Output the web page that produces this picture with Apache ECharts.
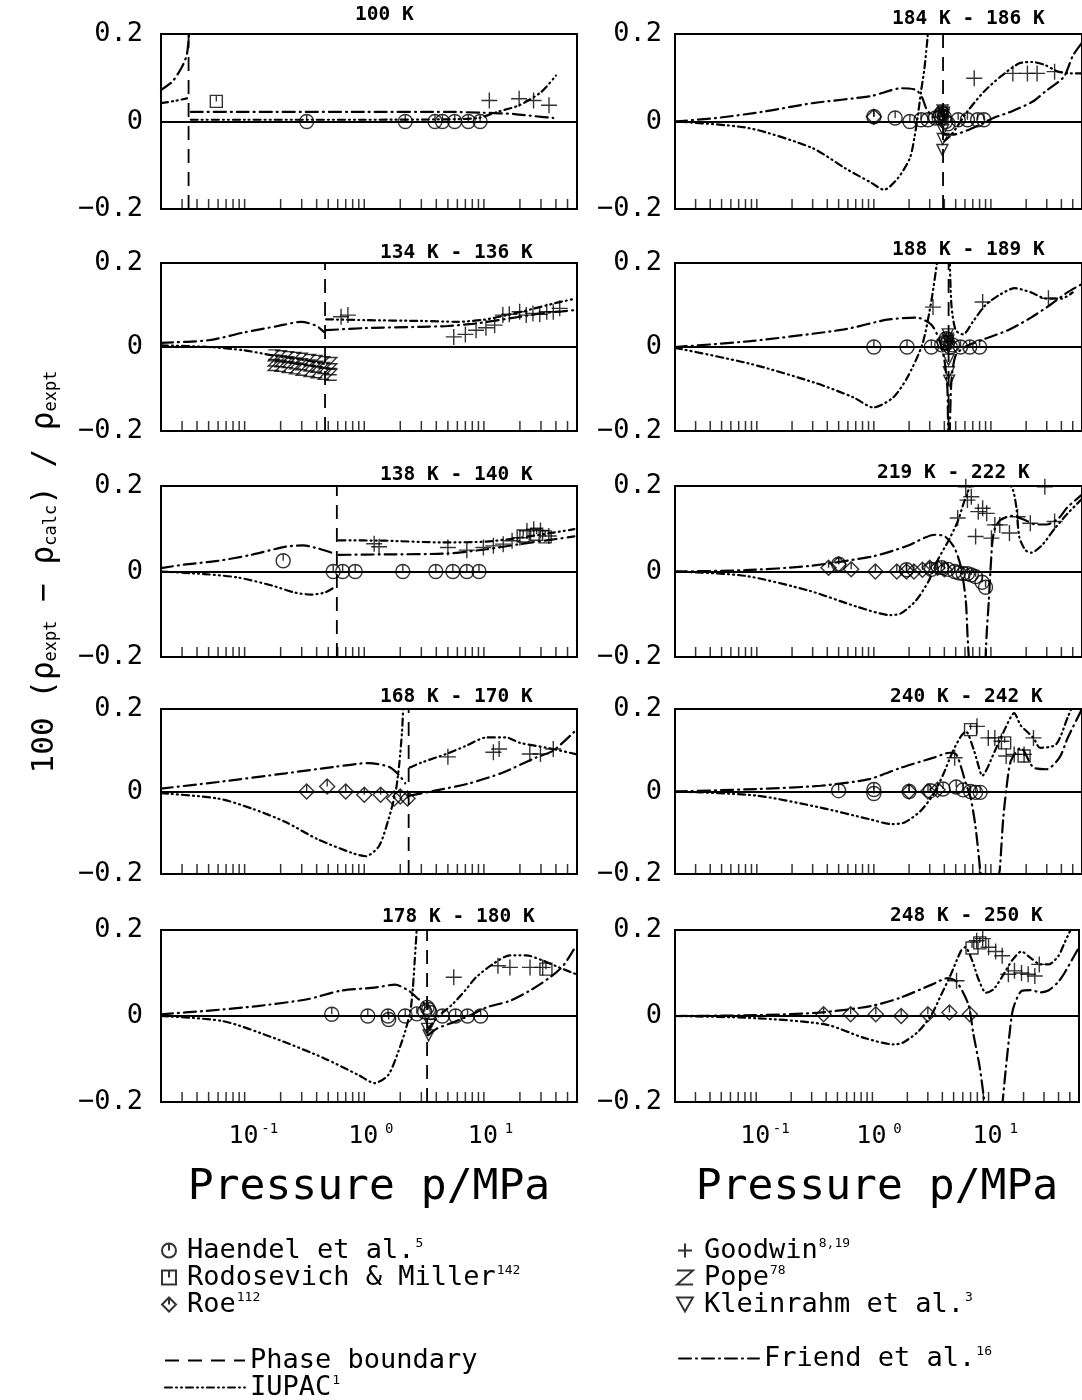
<!DOCTYPE html>
<html><head><meta charset="utf-8">
<script src="https://cdn.jsdelivr.net/npm/echarts@6.0.0/dist/echarts.min.js"></script>
<style>html,body{margin:0;padding:0;background:#fff}#c{width:1082px;height:1400px}</style>
</head><body><div id="c"></div>
<script>
// ---------- DATA ----------
const TITLES = ['100 K','134 K - 136 K','138 K - 140 K','168 K - 170 K','178 K - 180 K',
                '184 K - 186 K','188 K - 189 K','219 K - 222 K','240 K - 242 K','248 K - 250 K'];
// saturation pressure (MPa) of each panel; null = supercritical
const PHASE_P = [0.034, 0.47, 0.59, 2.35, 3.35, 3.9, 4.35, null, null, null];
// x-axis minor/major tick positions (MPa)
const TICKS = [0.03,0.04,0.05,0.06,0.07,0.08,0.09,0.1,0.2,0.3,0.4,0.5,0.6,0.7,0.8,0.9,1,2,3,4,5,6,7,8,9,10,20,30,40,50];

// Friend et al. curves (segments of [p, dev])
const FRIEND_1 = [[[0.02,0.072],[0.025,0.092],[0.03,0.125],[0.033,0.155],[0.0345,0.21]],
  [[0.0355,0.022],[0.1,0.022],[1,0.022],[5,0.022],[10,0.02],[18,0.017],[27,0.012],[38,0.008]]];
const FRIEND_2 = [[[0.02,0.01],[0.05,0.016],[0.1,0.035],[0.19,0.05],[0.3,0.06],[0.4,0.05],[0.46,0.036]],
  [[0.48,0.04],[1,0.045],[3,0.048],[5,0.05],[8,0.055],[12,0.062],[20,0.072],[30,0.08],[45,0.085],[58,0.088]]];
const FRIEND_3 = [[[0.02,0.008],[0.031,0.016],[0.06,0.025],[0.114,0.039],[0.22,0.058],[0.31,0.061],[0.41,0.054],[0.56,0.042]],
  [[0.61,0.039],[1.5,0.04],[4.9,0.042],[10.5,0.052],[20,0.064],[38,0.075],[57,0.082]]];
const FRIEND_4 = [[[0.02,0.007],[0.06,0.023],[0.22,0.044],[0.57,0.06],[1.09,0.069],[1.6,0.06],[1.95,0.04],[2.2,0.02]],
  [[2.4,-0.01],[3.9,0.002],[7.4,0.019],[14.1,0.045],[27.6,0.083],[38,0.099],[58,0.147]]];
const FRIEND_5 = [[[0.02,0.004],[0.048,0.012],[0.127,0.023],[0.335,0.039],[0.64,0.059],[1.22,0.066],[1.81,0.073],[2.35,0.059],[2.85,0.039],[3.25,0.027]],
  [[3.4,-0.045],[4.0,-0.03],[5.5,-0.015],[7.5,0.0],[10.5,0.02],[16.4,0.035],[24.2,0.059],[35.7,0.09],[46,0.117],[58,0.16]]];
const FRIEND_6 = [[[0.02,0.0],[0.045,0.008],[0.117,0.023],[0.3,0.042],[0.94,0.058],[1.73,0.076],[2.3,0.072],[2.6,0.053],[2.8,0.03],[3.2,0.01]],
  [[4.0,-0.03],[4.7,-0.03],[7,-0.015],[10.5,0.008],[15,0.023],[22.6,0.045],[29,0.068],[42,0.102],[50,0.15],[60,0.18]]];
const FRIEND_7 = [[[0.02,0.0],[0.088,0.014],[0.56,0.042],[1.3,0.065],[2.33,0.07],[3.1,0.053],[3.6,0.019],[4.0,-0.03],[4.25,-0.1],[4.3,-0.21]],
  [[4.45,-0.21],[4.6,-0.08],[5.0,-0.02],[6,0.0],[9,0.02],[14,0.04],[22,0.07],[32,0.1],[45,0.13],[60,0.15]]];
const FRIEND_8 = [[[0.02,0],[0.079,0.003],[0.28,0.013],[1.0,0.036],[1.89,0.059],[3.34,0.086],[4.05,0.082],[4.89,0.055],[5.56,0.009],[6.1,-0.068],[6.3,-0.145],[6.5,-0.21]],
  [[9.0,-0.21],[9.2,-0.145],[9.6,-0.068],[9.9,0.0],[10.3,0.07],[10.8,0.1],[12,0.12],[15,0.13],[19.7,0.12],[24,0.11],[30,0.11],[38,0.125],[45,0.15],[60,0.18]]];
const FRIEND_9 = [[[0.02,0],[0.1,0.006],[0.35,0.014],[0.91,0.03],[1.72,0.058],[3.24,0.082],[4.45,0.094],[5.05,0.09],[5.55,0.06],[6.1,0.02],[6.7,-0.014],[7.4,-0.087],[8.1,-0.19],[8.3,-0.21]],
  [[11.5,-0.21],[11.9,-0.19],[12.7,-0.07],[13.5,0.002],[14.8,0.074],[18,0.106],[23.1,0.058],[29.9,0.054],[38.5,0.082],[45.3,0.13],[60,0.2]]];
const FRIEND_10 = [[[0.02,0],[0.1,0.002],[0.35,0.008],[0.97,0.023],[1.72,0.042],[3.24,0.073],[4.45,0.088],[5.3,0.08],[6.7,0.027],[7.4,-0.042],[8.4,-0.12],[9.3,-0.21]],
  [[13.1,-0.21],[14.1,-0.12],[15.8,0.0],[16.7,0.027],[19.2,0.058],[23,0.06],[28,0.055],[33,0.06],[40,0.08],[45,0.1],[60,0.16]]];

// IUPAC curves
const IUPAC_1 = [[[0.02,0.042],[0.026,0.047],[0.033,0.053]],
  [[0.0355,0.004],[0.1,0.004],[1,0.004],[5,0.005],[9,0.008],[13,0.022],[19.7,0.037],[30,0.067],[40,0.105]]];
const IUPAC_2 = [[[0.02,0.004],[0.05,0.0],[0.1,-0.008],[0.17,-0.02],[0.3,-0.03],[0.46,-0.04]],
  [[0.48,0.066],[1,0.064],[3,0.062],[6,0.06],[10,0.065],[15,0.075],[25,0.09],[40,0.105],[58,0.115]]];
const IUPAC_3 = [[[0.02,0.0],[0.046,-0.006],[0.088,-0.014],[0.17,-0.033],[0.26,-0.049],[0.36,-0.054],[0.47,-0.049],[0.57,-0.036]],
  [[0.61,0.073],[1.5,0.072],[4.5,0.068],[10.5,0.07],[20,0.079],[38,0.091],[57,0.099]]];
const IUPAC_4 = [[[0.02,-0.004],[0.06,-0.017],[0.114,-0.041],[0.22,-0.074],[0.41,-0.116],[0.79,-0.149],[1.03,-0.157],[1.33,-0.132],[1.6,-0.066],[1.83,0.0],[1.96,0.066],[2.07,0.147],[2.12,0.21]],
  [[2.4,0.058],[3,0.07],[4.84,0.091],[7,0.11],[10.5,0.131],[15.4,0.131],[20,0.118],[33.6,0.106],[60,0.09]]];
const IUPAC_5 = [[[0.02,0],[0.066,-0.012],[0.175,-0.051],[0.46,-0.098],[0.89,-0.137],[1.22,-0.156],[1.59,-0.137],[1.93,-0.082],[2.2,-0.035],[2.43,0.012],[2.55,0.066],[2.64,0.129],[2.72,0.184],[2.75,0.21]],
  [[3.4,-0.03],[4.2,0.0],[5.45,0.027],[7,0.06],[8.6,0.09],[11.9,0.121],[16.5,0.141],[22.6,0.141],[31,0.129],[42.5,0.113],[58,0.098]]];
const IUPAC_6 = [[[0.02,0],[0.085,-0.015],[0.3,-0.061],[0.57,-0.107],[0.95,-0.14],[1.22,-0.156],[1.6,-0.13],[2.03,-0.084],[2.23,-0.034],[2.38,0.015],[2.53,0.069],[2.7,0.12],[2.87,0.19],[2.9,0.21]],
  [[4.0,-0.045],[4.6,-0.03],[6.3,0.023],[8.7,0.068],[12,0.102],[17.5,0.133],[22.6,0.136],[29,0.129],[37.5,0.114],[48,0.11],[60,0.11]]];
const IUPAC_7 = [[[0.02,-0.002],[0.088,-0.04],[0.32,-0.086],[0.67,-0.12],[0.99,-0.144],[1.45,-0.121],[1.92,-0.074],[2.6,0.007],[3.1,0.11],[3.5,0.21]],
  [[4.45,0.21],[4.6,0.1],[5.0,0.04],[5.8,0.03],[7,0.06],[9,0.1],[12,0.125],[16,0.14],[22,0.13],[30,0.115],[40,0.115],[50,0.13]]];
const IUPAC_8 = [[[0.02,0],[0.079,-0.01],[0.28,-0.045],[0.73,-0.083],[1.38,-0.102],[1.7,-0.098],[2.29,-0.068],[2.94,-0.022],[3.56,0.03],[4.3,0.07],[5.2,0.117],[5.9,0.163],[6.5,0.194],[6.8,0.21]],
  [[13.5,0.21],[15.3,0.194],[16.5,0.15],[17.5,0.08],[19.7,0.05],[22,0.044],[27,0.06],[35,0.1],[45,0.135],[60,0.17]]];
const IUPAC_9 = [[[0.02,0],[0.1,-0.01],[0.35,-0.039],[0.91,-0.067],[1.42,-0.079],[1.83,-0.075],[2.51,-0.047],[3.24,-0.006],[3.92,0.042],[4.74,0.098],[5.55,0.134],[6.1,0.146],[7.16,0.1],[7.87,0.06],[8.4,0.038],[10.8,0.098],[13.1,0.15],[15.8,0.19],[18,0.16],[23.1,0.13],[26.3,0.106],[36,0.114],[45.3,0.18],[52,0.22]]];
const IUPAC_10 = [[[0.02,0],[0.1,-0.005],[0.4,-0.02],[0.85,-0.051],[1.52,-0.066],[1.83,-0.062],[2.51,-0.035],[3.24,0.004],[3.92,0.05],[4.74,0.097],[5.8,0.152],[6.3,0.16],[7.2,0.13],[8.2,0.085],[9.5,0.054],[11,0.062],[13,0.09],[16,0.13],[19.2,0.15],[23,0.135],[28,0.12],[33,0.12],[40,0.14],[45,0.17],[55,0.22]]];

// Experimental data points [p MPa, deviation]
const HAENDEL_1 = [[0.33,0],[2.2,0],[3.9,0],[4.5,0],[5.7,0],[7.4,0],[9.3,0]];
const HAENDEL_3 = [[0.21,0.025],[0.55,0],[0.66,0],[0.84,0],[2.1,0],[3.96,0],[5.5,0],[7.2,0],[9.1,0]];
const HAENDEL_5 = [[0.535,0.004],[1.07,0],[1.58,0],[1.6,-0.008],[2.2,0],[2.75,0.005],[3.2,0.01],[3.35,0.02],[3.45,0.015],[3.55,0.008],[4.5,0],[5.8,0],[7.3,0],[9.4,0]];
const HAENDEL_6 = [[1.0,0.011],[1.52,0.008],[2.03,0],[2.53,0.004],[2.9,0.004],[3.37,0.008],[3.6,0.01],[3.7,0.015],[3.8,0.02],[4.0,0.01],[4.1,0.0],[4.3,-0.005],[5.25,0.004],[6.3,0.004],[7.7,0.004],[8.7,0.004]];
const HAENDEL_7 = [[1.0,0],[1.92,0],[3.1,0],[3.8,0.005],[4.0,0.01],[4.15,0.02],[4.25,0.01],[4.5,0.0],[4.7,0.005],[5.5,0],[6.6,0],[8,0]];
const HAENDEL_8 = [[0.5,0.017],[1.9,0.004],[3.1,0.005],[3.8,0.009],[4.3,0.005],[4.9,0.0],[5.3,-0.003],[5.8,-0.005],[6.3,-0.005],[6.8,-0.008],[7.4,-0.012],[8.4,-0.025],[9.0,-0.037]];
const HAENDEL_9 = [[0.5,0.002],[1.0,-0.005],[1.0,0.005],[2.0,0],[3.04,0.002],[3.9,0.006],[5.05,0.011],[5.8,0.004],[6.7,0.0],[7.4,-0.002],[8.1,-0.002]];

const RODO_1 = [[0.058,0.046]];
const RODO_3 = [[21.3,0.083],[27.6,0.087],[32.5,0.081]];
const RODO_5 = [[33,0.109]];
const RODO_9 = [[6.7,0.15],[13.1,0.118],[19.2,0.086]];
const RODO_10 = [[7.2,0.158],[8.4,0.17]];

const ROE_4 = [[0.33,0],[0.49,0.012],[0.7,0],[1.0,-0.008],[1.37,-0.008],[1.78,-0.017],[2.0,-0.012],[2.3,-0.017]];
const ROE_6 = [[1.0,0.011]];
const ROE_8 = [[0.41,0.009],[0.5,0.017],[0.64,0.005],[1.03,0.0],[1.57,0],[1.9,0],[2.2,0],[2.6,0.004],[3.0,0.009],[3.5,0.009],[4.0,0.005]];
const ROE_9 = [[2.0,0.0],[2.9,0.0],[3.5,0.004]];
const ROE_10 = [[0.38,0.004],[0.65,0.004],[1.07,0.004],[1.77,0.0],[3.0,0.004],[4.6,0.008],[6.9,0.004]];

const GOODWIN_1 = [[11.1,0.048],[19.7,0.052],[26,0.048],[35,0.037]];
const GOODWIN_2 = [[0.64,0.072],[0.73,0.076],[5.6,0.024],[7,0.03],[8.6,0.04],[10.4,0.046],[12.3,0.052],[14.4,0.076],[16.3,0.078],[19.9,0.084],[22.6,0.076],[25.7,0.08],[29.3,0.078],[33.5,0.084],[38,0.084],[43,0.092]];
const GOODWIN_3 = [[1.21,0.065],[1.33,0.058],[5.0,0.056],[7.2,0.05],[9.9,0.056],[12,0.06],[14.5,0.064],[17.2,0.072],[20,0.079],[22.9,0.095],[26.1,0.099],[29.7,0.096],[34.9,0.083]];
const GOODWIN_4 = [[5.0,0.084],[12,0.095],[13.4,0.103],[24.2,0.091],[29.7,0.091],[38,0.103]];
const GOODWIN_5 = [[5.6,0.09],[13.1,0.117],[16.5,0.113],[24.3,0.113],[31,0.113]];
const GOODWIN_6 = [[7.2,0.099],[15.4,0.11],[20.5,0.11],[24.8,0.11],[35,0.114]];
const GOODWIN_7 = [[3.2,0.095],[8.5,0.107],[31,0.116]];
const GOODWIN_8 = [[5.2,0.125],[6.3,0.167],[6.8,0.175],[7.4,0.082],[7.8,0.14],[8.5,0.148],[9.2,0.136],[10.1,0.078],[10.8,0.109],[11.9,0.109],[14.4,0.09],[16.9,0.128],[21.7,0.113],[35,0.117],[6.1,0.198],[28.9,0.198]];
const GOODWIN_9 = [[4.9,0.082],[7.6,0.158],[9.5,0.13],[10.8,0.13],[12.3,0.122],[13.5,0.086],[15.8,0.09],[19.2,0.09],[23.1,0.13]];
const GOODWIN_10 = [[5.3,0.082],[7.9,0.175],[8.9,0.18],[10,0.16],[11.5,0.15],[13.1,0.14],[14.8,0.097],[16.7,0.105],[19.2,0.1],[21.9,0.097],[25,0.093],[27.3,0.12]];

const POPE_2 = [[0.175,-0.02],[0.2,-0.022],[0.23,-0.024],[0.265,-0.026],[0.3,-0.028],[0.35,-0.031],[0.4,-0.033],[0.46,-0.036],[0.53,-0.038],
  [0.175,-0.032],[0.2,-0.034],[0.23,-0.036],[0.265,-0.039],[0.3,-0.041],[0.35,-0.044],[0.4,-0.047],[0.46,-0.05],[0.53,-0.053],
  [0.175,-0.043],[0.2,-0.045],[0.23,-0.048],[0.265,-0.051],[0.3,-0.054],[0.35,-0.057],[0.4,-0.06],[0.46,-0.064],[0.53,-0.066]];

const KLEIN_5 = [[3.35,-0.03],[3.45,-0.045],[3.55,-0.02]];
const KLEIN_6 = [[3.85,-0.065],[3.88,-0.04],[3.9,-0.02],[3.92,0.0],[3.95,0.015],[3.98,0.02],[3.82,0.01],[3.86,0.025]];
const KLEIN_7 = [[4.3,0.02],[4.32,0.0],[4.35,-0.03],[4.37,-0.06],[4.4,-0.08],[4.28,0.03],[4.33,0.015]];

// legend superscripts (reference numbers)
const SUPS = {'Haendel et al.':'5','Rodosevich & Miller':'142','Roe':'112','Goodwin':'8,19','Pope':'78',
  'Kleinrahm et al.':'3','Phase boundary':'','IUPAC':'1','Friend et al.':'16'};

// ---------- assembly ----------
const FRIEND = [FRIEND_1,FRIEND_2,FRIEND_3,FRIEND_4,FRIEND_5,FRIEND_6,FRIEND_7,FRIEND_8,FRIEND_9,FRIEND_10];
const IUPAC = [IUPAC_1,IUPAC_2,IUPAC_3,IUPAC_4,IUPAC_5,IUPAC_6,IUPAC_7,IUPAC_8,IUPAC_9,IUPAC_10];
const E = [];
const MARKERS = [
  {name:'Haendel et al.', symbol:'path://M0,-10A10,10,0,1,1,0,10A10,10,0,1,1,0,-10ZM0,-10L0,0', size:14,
   data:[HAENDEL_1,E,HAENDEL_3,E,HAENDEL_5,HAENDEL_6,HAENDEL_7,HAENDEL_8,HAENDEL_9,E]},
  {name:'Rodosevich & Miller', symbol:'path://M-8,-8L8,-8L8,8L-8,8ZM0,-8L0,0', size:12,
   data:[RODO_1,E,RODO_3,E,RODO_5,E,E,E,RODO_9,RODO_10]},
  {name:'Roe', symbol:'path://M0,-10L10,0L0,10L-10,0ZM0,-10L0,0', size:15,
   data:[E,E,E,ROE_4,E,ROE_6,E,ROE_8,ROE_9,ROE_10]},
  {name:'Goodwin', symbol:'path://M-10,0L10,0M0,-10L0,10', size:16,
   data:[GOODWIN_1,GOODWIN_2,GOODWIN_3,GOODWIN_4,GOODWIN_5,GOODWIN_6,GOODWIN_7,GOODWIN_8,GOODWIN_9,GOODWIN_10]},
  {name:'Pope', symbol:'path://M-8,-7L8,-7L-8,7L8,7', size:11,
   data:[E,POPE_2,E,E,E,E,E,E,E,E]},
  {name:'Kleinrahm et al.', symbol:'path://M-9,-7L9,-7L0,9Z', size:11,
   data:[E,E,E,E,KLEIN_5,KLEIN_6,KLEIN_7,E,E,E]}
];

const FONT = 'DejaVu Sans Mono';
const GRID_LEFT = [161, 675], GRID_W = [416, 421];
const ROW_TOP = [34, 263, 486, 709, 930], ROW_H = [175, 168, 171, 165, 172];
const TITLE_POS = [[355,5],[380,243],[380,465],[380,687],[382,907],[892,9],[892,240],[877,463],[890,687],[890,906]];
const FRIEND_DASH = [12, 5, 1, 5];
const IUPAC_DASH = [7, 4, 1, 4, 1, 4];
const PB_DASH = [14, 9];
const NOFILL = {color: 'rgba(0,0,0,0)', borderColor: 'rgba(0,0,0,0)', borderWidth: 0};

const grids = [], xAxes = [], yAxes = [], series = [], titles = [];
for (let i = 0; i < 10; i++) {
  const col = i < 5 ? 0 : 1, row = i % 5;
  grids.push({left: GRID_LEFT[col], top: ROW_TOP[row], width: GRID_W[col], height: ROW_H[row],
    show: true, borderColor: '#000', borderWidth: 2, backgroundColor: 'transparent'});
  xAxes.push({type: 'log', logBase: 10, gridIndex: i, min: 0.02, max: 60,
    axisLine: {show: false}, axisTick: {show: false}, splitLine: {show: false},
    axisLabel: {show: row === 4, margin: 20, color: '#000',
      formatter: v => { const l = Math.log10(v), e = Math.round(l);
        if (Math.abs(l - e) > 1e-6) return '';
        return '{b|10}{s|' + (e < 0 ? '-' : '') + Math.abs(e) + '}'; },
      rich: {b: {fontFamily: FONT, fontSize: 25, color: '#000', padding: [0,0,0,18]},
             s: {fontFamily: FONT, fontSize: 14, color: '#000', width: 18, padding: [0,0,15,2]}}},
    name: row === 4 ? 'Pressure p/MPa' : '', nameLocation: 'middle', nameGap: 64,
    nameTextStyle: {fontFamily: FONT, fontSize: 43, color: '#000'}});
  yAxes.push({type: 'value', gridIndex: i, min: -0.2, max: 0.2, interval: 0.2,
    axisLine: {show: false}, axisTick: {show: false},
    splitLine: {show: true, lineStyle: {color: '#000', width: 2}},
    axisLabel: {color: '#000', fontFamily: FONT, fontSize: 27, margin: col ? 13 : 18,
      formatter: v => Math.abs(v) < 1e-9 ? '0' : (v < 0 ? '−' : '') + Math.abs(v).toFixed(1)}});
  titles.push({text: TITLES[i], left: TITLE_POS[i][0], top: TITLE_POS[i][1], padding: 0,
    textStyle: {fontFamily: FONT, fontSize: 19.5, fontWeight: 'bold', color: '#000'}});

  // x ticks along bottom edge (pointing inward)
  series.push({type: 'scatter', name: 'tick', xAxisIndex: i, yAxisIndex: i, silent: true, clip: false,
    symbol: 'rect', symbolSize: [1.5, 10], symbolOffset: [0, -5], itemStyle: {color: '#000'},
    data: TICKS.map(t => [t, -0.2]), z: 2});
  // phase boundary
  if (PHASE_P[i] !== null) {
    series.push({type: 'line', name: 'Phase boundary', xAxisIndex: i, yAxisIndex: i, silent: true,
      symbol: 'none', data: [[PHASE_P[i], -0.2], [PHASE_P[i], 0.2]], itemStyle: NOFILL,
      lineStyle: {color: '#000', width: 1.8, type: PB_DASH}, z: 3});
  }
  FRIEND[i].forEach(seg => series.push({type: 'line', name: 'Friend et al.', xAxisIndex: i, yAxisIndex: i,
    silent: true, symbol: 'none', smooth: 0.25, data: seg, clip: true, itemStyle: NOFILL,
    lineStyle: {color: '#000', width: 2.2, type: FRIEND_DASH, cap: 'round'}, z: 3}));
  IUPAC[i].forEach(seg => series.push({type: 'line', name: 'IUPAC', xAxisIndex: i, yAxisIndex: i,
    silent: true, symbol: 'none', smooth: 0.25, data: seg, clip: true, itemStyle: NOFILL,
    lineStyle: {color: '#000', width: 2.2, type: IUPAC_DASH, cap: 'round'}, z: 3}));
  MARKERS.forEach(m => series.push({type: 'scatter', name: m.name, xAxisIndex: i, yAxisIndex: i,
    silent: true, symbol: m.symbol, symbolSize: m.size, data: m.data[i],
    itemStyle: {color: 'rgba(0,0,0,0)', borderColor: '#000', borderWidth: 1.4}, z: 4}));
}

const legendText = {fontFamily: FONT, fontSize: 27, color: '#000', lineHeight: 26,
  rich: {t: {fontFamily: FONT, fontSize: 27, color: '#000', lineHeight: 26},
         s: {fontFamily: FONT, fontSize: 13, color: '#000', padding: [0,0,14,1]}}};
const fmt = name => '{t|' + name + '}' + (SUPS[name] ? '{s|' + SUPS[name] + '}' : '');
const legends = [
  {data: ['Haendel et al.','Rodosevich & Miller','Roe'], left: 161, top: 1237, itemWidth: 26, itemHeight: 14, itemGap: 0},
  {data: ['Goodwin','Pope','Kleinrahm et al.'], left: 676, top: 1237, itemWidth: 28, itemHeight: 14, itemGap: 0},
  {data: ['Phase boundary','IUPAC'], left: 164, top: 1347, itemWidth: 80, itemHeight: 12, itemGap: 0},
  {data: ['Friend et al.'], left: 678, top: 1345, itemWidth: 80, itemHeight: 12, itemGap: 0}
].map(l => Object.assign({orient: 'vertical', selectedMode: false, formatter: fmt, textStyle: legendText,
  padding: 0, height: 160}, l));

const chart = echarts.init(document.getElementById('c'), null, {renderer: 'canvas'});
chart.setOption({
  animation: false, backgroundColor: '#fff',
  title: titles, grid: grids, xAxis: xAxes, yAxis: yAxes, series: series, legend: legends,
  graphic: [{type: 'text', x: 45, y: 572, rotation: Math.PI / 2,
    style: {text: '{a|100 (ρ}{b|expt}{a| − ρ}{b|calc}{a|) / ρ}{b|expt}',
      align: 'center', verticalAlign: 'middle', fill: '#000',
      rich: {a: {fontFamily: FONT, fontSize: 31, fill: '#000'},
             b: {fontFamily: FONT, fontSize: 17, fill: '#000', padding: [14,0,0,0]}}}}]
});
</script></body></html>
